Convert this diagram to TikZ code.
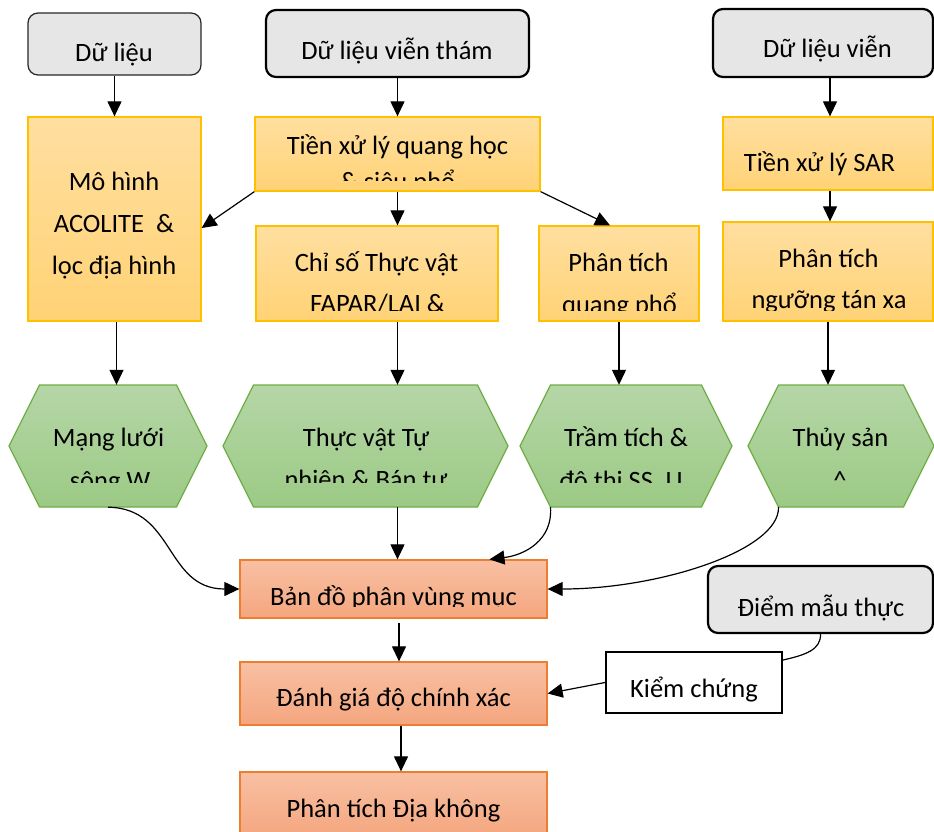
\documentclass[tikz,border=0pt]{standalone}
\usepackage{fontspec}
\setmainfont{Carlito}
\usetikzlibrary{arrows.meta}
\definecolor{ybord}{HTML}{FFC000}
\definecolor{ytop}{HTML}{FFDFA0}
\definecolor{ybot}{HTML}{FFD275}
\definecolor{gbord}{HTML}{70AD47}
\definecolor{gtop}{HTML}{B5D6A7}
\definecolor{gbot}{HTML}{9CCA85}
\definecolor{obord}{HTML}{ED7D31}
\definecolor{otop}{HTML}{F8C0A2}
\definecolor{obot}{HTML}{F4A67F}
\definecolor{grayfill}{HTML}{E6E6E6}
\tikzset{
  gbox/.style={rectangle, rounded corners=10pt, fill=grayfill, draw=black, line width=2.2pt, inner sep=0pt},
  gboxthin/.style={gbox, line width=1.2pt, draw=black!85},
  ybox/.style={rectangle, top color=ytop, bottom color=ybot, draw=ybord, line width=1.3pt, inner sep=0pt},
  obox/.style={rectangle, top color=otop, bottom color=obot, draw=obord, line width=1.3pt, inner sep=0pt},
  wbox/.style={rectangle, fill=white, draw=black, line width=2pt, inner sep=0pt},
  hexfill/.style={top color=gtop, bottom color=gbot, draw=gbord, line width=1.3pt},
  hexnode/.style={rectangle, draw=none, inner sep=0pt, minimum height=122pt},
  txt/.style={anchor=base, inner sep=0pt},
  arr/.style={-{Triangle[length=15pt,width=14pt]}, line width=1.2pt, black},
  con/.style={line width=1.2pt, black}
}
\newcommand\mkhex[4]{%
  \path[hexfill] (#2-#4,#3) -- (#2-#4+30.5,#3-61) -- (#2+#4-30.5,#3-61) -- (#2+#4,#3)
     -- (#2+#4-30.5,#3+61) -- (#2-#4+30.5,#3+61) -- cycle;
  \node[hexnode, minimum width=2*#4 pt] (#1) at (#2,#3) {};
  \coordinate (#1-bl) at (#2-#4+30.5,#3+61);
}
\begin{document}
\begin{tikzpicture}[x=1pt, y=-1pt, font=\fontsize{26.5}{32}\selectfont]
\useasboundingbox (0,0) rectangle (934,831);

% gray source boxes
\node[gboxthin, minimum width=173pt, minimum height=62pt] (dl1) at (114.5,44) {};
\node[gbox, minimum width=263pt, minimum height=67pt] (dl2) at (397.5,43.5) {};
\node[gbox, minimum width=220pt, minimum height=68pt] (dl3) at (823,43) {};
\node[gbox, minimum width=225pt, minimum height=67pt] (diem) at (820.5,599.5) {};

% yellow process boxes
\node[ybox, minimum width=173pt, minimum height=204pt] (mohinh) at (114.5,219) {};
\node[ybox, minimum width=285pt, minimum height=74pt] (tienxl) at (397.5,154) {};
\node[ybox, minimum width=242pt, minimum height=95pt] (chiso) at (377,273.5) {};
\node[ybox, minimum width=160pt, minimum height=95pt] (ptqp) at (619,273.5) {};
\node[ybox, minimum width=210pt, minimum height=73pt] (sar) at (828,153.5) {};
\node[ybox, minimum width=210pt, minimum height=99pt] (nguong) at (828,271.5) {};

% green hexagons
\mkhex{mang}{108}{446}{99}
\mkhex{thucvat}{365.5}{446}{142.5}
\mkhex{tram}{626}{446}{106}
\mkhex{thuy}{841}{446}{93}

% orange boxes
\node[obox, minimum width=307pt, minimum height=58pt] (bando) at (393.5,589) {};
\node[obox, minimum width=307pt, minimum height=63pt] (danhgia) at (393.5,693.5) {};
\node[obox, minimum width=307pt, minimum height=66pt] (ptdia) at (393.5,805) {};
\node[wbox, minimum width=176pt, minimum height=61pt] (kiem) at (694,682.5) {};

% texts
\node[txt] (t-dl1) at (114,61) {Dữ liệu};
\node[txt] (t-dl2) at (397,59) {Dữ liệu viễn thám};
\node[txt] (t-dl3) at (827.5,57.5) {Dữ liệu viễn};
\node[txt] (t-mh1) at (114,190) {Mô hình};
\node[txt] (t-mh2) at (114,232) {ACOLITE\ \ \&};
\node[txt] (t-mh3) at (114,274) {lọc địa hình};
\begin{scope}
  \clip (255,117) rectangle (540,180);
  \node[txt] (t-tx1) at (397.5,154) {Tiền xử lý quang học};
  \node[txt] (t-tx2) at (397.5,190) {\& siêu phổ};
\end{scope}
\begin{scope}
  \clip (256,226) rectangle (933,310);
  \node[txt] (t-cs1) at (376.5,271) {Chỉ số Thực vật};
  \node[txt] (t-cs2) at (377.5,312) {FAPAR/LAI \&};
  \node[txt] (t-qp1) at (618.5,271) {Phân tích};
  \node[txt] (t-qp2) at (619.5,313) {quang phổ};
  \node[txt] (t-ng1) at (828.5,267) {Phân tích};
  \node[txt] (t-ng2) at (829,308) {ngưỡng tán xa};
\end{scope}
\node[txt] (t-sar) at (819.5,171) {Tiền xử lý SAR};
\begin{scope}
  \clip (0,385) rectangle (934,482);
  \node[txt] (t-mg1) at (108.5,446) {Mạng lưới};
  \node[txt] (t-mg2) at (110,489) {sông W};
  \node[txt] (t-tv1) at (366,446) {Thực vật Tự};
  \node[txt] (t-tv2) at (366,488) {nhiên \& Bán tự};
  \node[txt] (t-tr1) at (626,446) {Trầm tích \&};
  \node[txt] (t-tr2) at (621,489) {đô thị SS, U};
  \node[txt] (t-ts1) at (840.5,446) {Thủy sản};
  \node[txt] (t-ts2) at (840,489) {\textasciicircum};
\end{scope}
\begin{scope}
  \clip (240,560) rectangle (547,606);
  \node[txt] (t-bd) at (393.5,605) {Bản đồ phân vùng mục};
\end{scope}
\node[txt] (t-dg) at (393.5,706) {Đánh giá độ chính xác};
\node[txt] (t-pd) at (393.5,817) {Phân tích Địa không};
\node[txt] (t-kc) at (694,697) {Kiểm chứng};
\node[txt] (t-dm) at (821,616) {Điểm mẫu thực};

% connectors
\draw[arr] (dl1.south) -- (mohinh.north);
\draw[arr] (dl2.south) -- (tienxl.north);
\draw[arr] (tienxl.south) -- (tienxl.south |- chiso.north);
\draw[arr] (tienxl.south west) -- ([yshift=-9pt]mohinh.east);
\draw[arr] (tienxl.south east) -- ([xshift=-9pt]ptqp.north);
\draw[arr] ([xshift=7pt]dl3.south) -- ([xshift=2pt]sar.north);
\draw[arr] ([xshift=2pt]sar.south) -- ([xshift=2pt]nguong.north);
\draw[arr] ([xshift=2pt]mohinh.south) -- ([xshift=2pt]mohinh.south |- mang.north);
\draw[arr] (tienxl.south |- chiso.south) -- (tienxl.south |- thucvat.north);
\draw[arr] (ptqp.south) -- (ptqp.south |- tram.north);
\draw[arr] (nguong.south) -- (nguong.south |- thuy.north);
\draw[arr] (mang.south) .. controls (175,508) and (165,589) .. (bando.west);
\draw[arr] (tienxl.south |- thucvat.south) -- (tienxl.south |- bando.north);
\draw[arr] (tram-bl) .. controls (553,540) and (525,555) .. ([xshift=96pt]bando.north);
\draw[arr] (thuy-bl) .. controls (780,550) and (660,589) .. (bando.east);
\draw[arr] ([xshift=5.5pt,yshift=-4pt]bando.south) -- ([xshift=5.5pt]danhgia.north);
\draw[arr] ([xshift=7.5pt]danhgia.south) -- ([xshift=7.5pt]ptdia.north);
\draw[arr] (kiem.west) -- (danhgia.east);
\draw[con] (diem.south) .. controls (821,650) and (805,655) .. ([yshift=-9pt]kiem.north east);
\end{tikzpicture}
\end{document}
